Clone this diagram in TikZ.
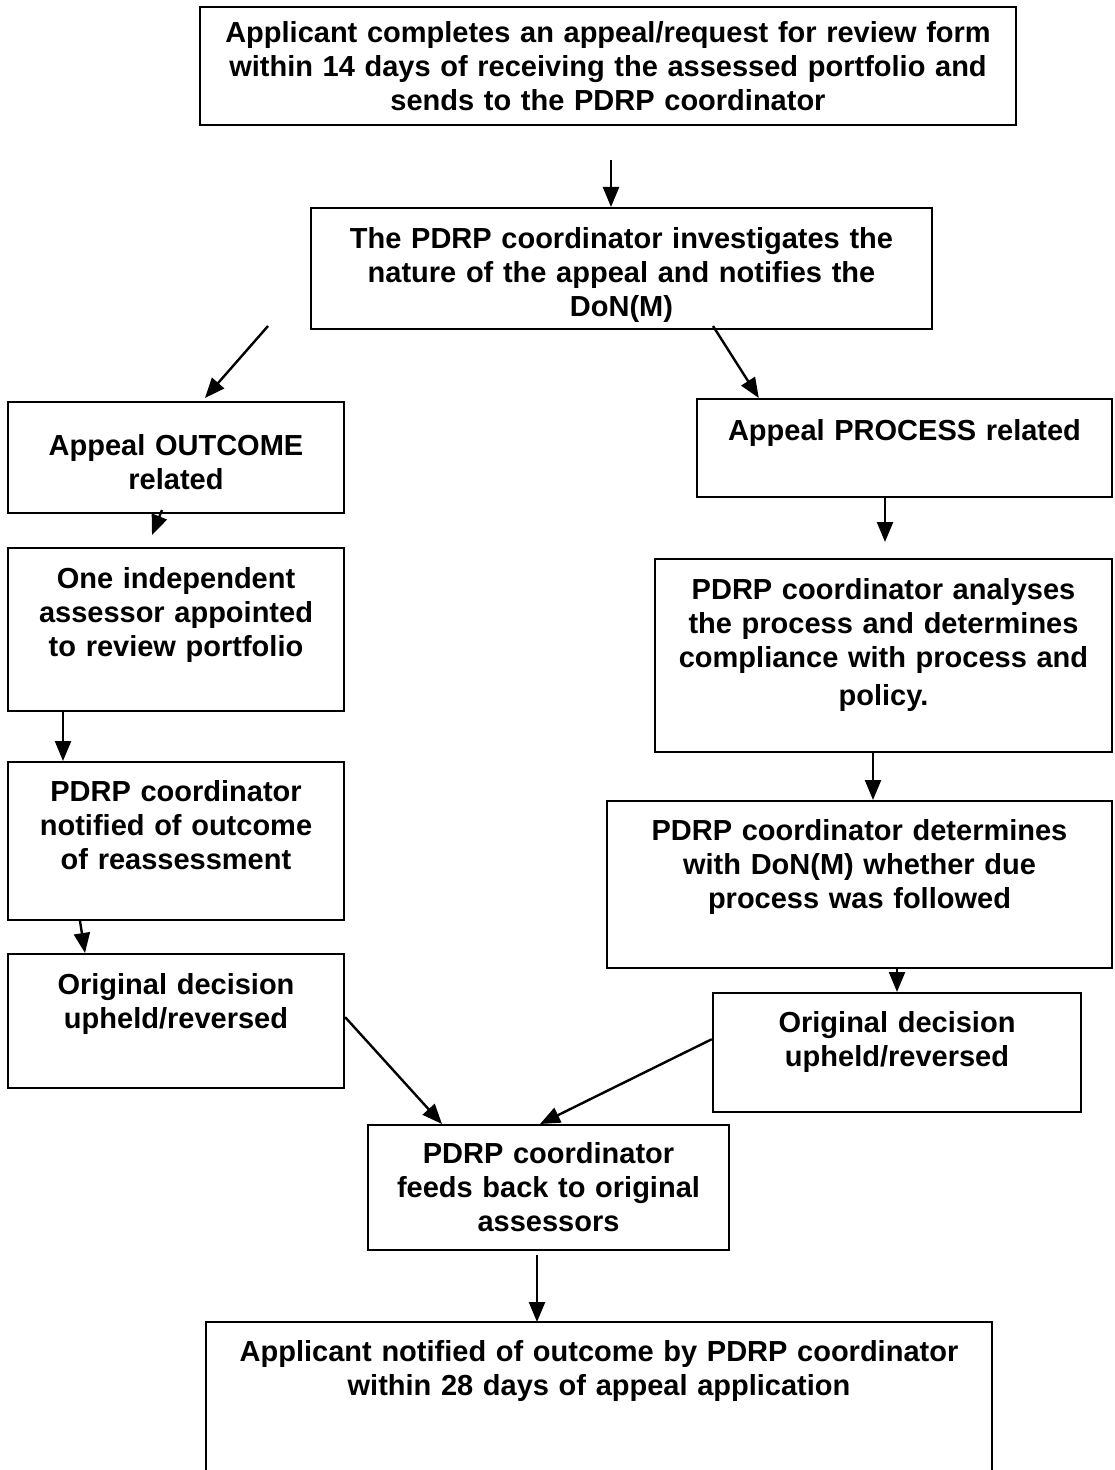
\documentclass[tikz,border=0pt]{standalone}
\usepackage{fontspec}
\setmainfont{Liberation Sans}
\usetikzlibrary{arrows.meta}

\begin{document}
\begin{tikzpicture}[x=0.5pt, y=-0.5pt, >={Triangle[length=10pt,width=8pt]},
		stepbox/.style={draw, line width=1.2pt, anchor=north, align=center,
			inner xsep=2pt, inner ysep=9pt, text height=11pt,
			font=\bfseries\fontsize{14.5}{17}\selectfont},
		flow/.style={->, line width=1.2pt}]
		
		\useasboundingbox (0,0) rectangle (1114,1470);
		
		% top of the chart
		\node[stepbox, text width=404pt, text height=8.5pt, text depth=32.5pt] (apply) at (608,6)
		{Applicant completes an appeal/request for review form\\ within 14 days of receiving the assessed portfolio and\\ sends to the PDRP coordinator};
		\node[stepbox, text width=306.5pt, text depth=31.5pt] (investigate) at (621.5,207)
		{The PDRP coordinator investigates the\\ nature of the appeal and notifies the\\ DoN(M)};
		
		% outcome branch
		\node[stepbox, text width=164pt, text height=17.5pt, text depth=20pt] (outcome) at (176,401)
		{Appeal OUTCOME\\ related};
		\node[stepbox, text width=164pt, text depth=52.5pt] (assessor) at (176,547)
		{One independent\\ assessor appointed\\ to review portfolio};
		\node[stepbox, text width=164pt, text height=10.5pt, text depth=50.5pt] (notified) at (176,761)
		{PDRP coordinator\\ notified of outcome\\ of reassessment};
		\node[stepbox, text width=164pt, text depth=38pt] (decisionL) at (176,953)
		{Original decision\\ upheld/reversed};
		
		% process branch
		\node[stepbox, text width=203.5pt, text height=11.5pt, text depth=19.5pt] (process) at (904.5,398)
		{Appeal PROCESS related};
		\node[stepbox, text width=224.5pt, text depth=67.5pt] (analyse) at (883.5,558)
		{PDRP coordinator analyses\\ the process and determines\\ compliance with process and\\[2pt] policy.};
		\node[stepbox, text width=248.5pt, text height=10.5pt, text depth=55pt] (determine) at (859.5,800)
		{PDRP coordinator determines\\ with DoN(M) whether due\\ process was followed};
		\node[stepbox, text width=180pt, text height=10.5pt, text depth=31pt] (decisionR) at (897,992)
		{Original decision\\ upheld/reversed};
		
		% both branches meet
		\node[stepbox, text width=176.5pt, text height=10pt, text depth=34.5pt] (feedback) at (548.5,1124)
		{PDRP coordinator\\ feeds back to original\\ assessors};
		\node[stepbox, draw=none, text width=388pt, text height=10pt, text depth=46pt] (notify) at (599,1322)
		{Applicant notified of outcome by PDRP coordinator\\ within 28 days of appeal application};
		\draw[line width=1.2pt] (notify.south west) |- (notify.north east) -- (notify.south east);
		
		% arrows
		\coordinate (a1) at (611,160);
		\coordinate (a2s) at (268,326);
		\coordinate (a2e) at (205,398);
		\coordinate (a3s) at (713,326);
		\coordinate (a4s) at (162,510);
		\coordinate (a4e) at (152,535);
		\coordinate (a5s) at (885,498);
		\coordinate (a5e) at (885,542);
		\coordinate (a6) at (63,712);
		\coordinate (a7) at (873,753);
		\coordinate (a8) at (80,921);
		\coordinate (a12) at (537,1255);
		
		\draw[flow] (a1) -- (a1 |- investigate.north);
		\draw[flow] (a2s) -- (a2e);
		\draw[flow] (a3s) -- ([xshift=31.5pt]process.north west);
		\draw[flow] (a4s) -- (a4e);
		\draw[flow] (a5s) -- (a5e);
		\draw[flow] (a6) -- (a6 |- notified.north);
		\draw[flow] (a7) -- (a7 |- determine.north);
		\draw[flow] (a8) -- ([xshift=-45.5pt]decisionL.north);
		\draw[flow] (determine.south -| decisionR.north) -- (decisionR.north);
		\draw[flow] ([yshift=2pt]decisionL.east) -- ([xshift=-53.25pt]feedback.north);
		\draw[flow] ([yshift=6.75pt]decisionR.west) -- ([xshift=-4.25pt]feedback.north);
		\draw[flow] (a12) -- (a12 |- notify.north);
		
	\end{tikzpicture}
\end{document}
